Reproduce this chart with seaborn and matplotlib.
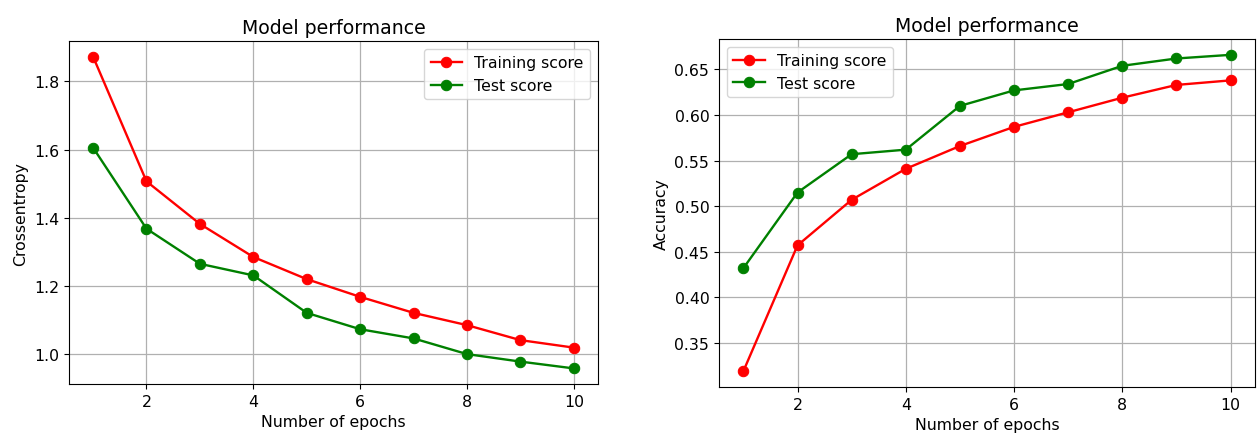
import matplotlib
matplotlib.use("Agg")
import matplotlib.pyplot as plt
import seaborn as sns
import pandas as pd

epochs = [1, 2, 3, 4, 5, 6, 7, 8, 9, 10]

train_loss = [1.873, 1.507, 1.382, 1.285, 1.220, 1.168, 1.121, 1.085, 1.041, 1.019]
test_loss = [1.606, 1.368, 1.265, 1.231, 1.121, 1.073, 1.046, 1.000, 0.978, 0.958]

train_acc = [0.319, 0.457, 0.507, 0.541, 0.566, 0.587, 0.603, 0.619, 0.633, 0.638]
test_acc = [0.432, 0.515, 0.557, 0.562, 0.610, 0.627, 0.634, 0.654, 0.662, 0.666]

series_names = ["Training score", "Test score"]
series_colors = ["red", "green"]

plt.rcParams.update({
    "font.family": ["DejaVu Sans"],
    "font.size": 11.3,
    "axes.titlesize": 13.6,
    "axes.labelsize": 11.3,
    "xtick.labelsize": 11.3,
    "ytick.labelsize": 11.3,
    "legend.fontsize": 11.3,
})

fig = plt.figure(figsize=(12.57, 4.35), dpi=100)
ax_loss = fig.add_axes([0.0549, 0.1149, 0.4208, 0.7885])
ax_acc = fig.add_axes([0.572, 0.108, 0.4264, 0.800])


def draw_panel(ax, train, test, ylabel, legend_loc):
    for name, values, color in zip(series_names, [train, test], series_colors):
        df = pd.DataFrame({"epoch": epochs, "score": values})
        sns.lineplot(data=df, x="epoch", y="score", ax=ax, color=color,
                     marker="o", markersize=7.5, markeredgecolor=color,
                     linewidth=1.7, label=name)
    ax.set_title("Model performance")
    ax.set_xlabel("Number of epochs")
    ax.set_ylabel(ylabel)
    ax.grid(True, color="#b0b0b0", linewidth=0.9)
    ax.set_axisbelow(True)
    ax.set_xticks([2, 4, 6, 8, 10])
    ax.legend(loc=legend_loc)


draw_panel(ax_loss, train_loss, test_loss, "Crossentropy", "upper right")
ax_loss.set_yticks([1.0, 1.2, 1.4, 1.6, 1.8])

draw_panel(ax_acc, train_acc, test_acc, "Accuracy", "upper left")
ax_acc.set_yticks([0.35, 0.40, 0.45, 0.50, 0.55, 0.60, 0.65])

fig.savefig("out.png", dpi=100)
